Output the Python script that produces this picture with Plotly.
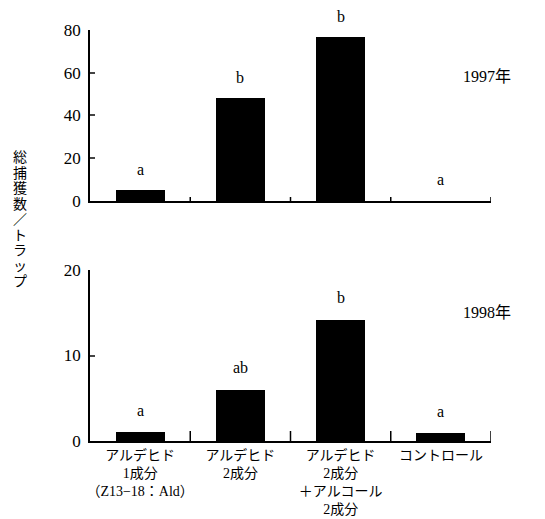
import plotly.graph_objects as go
from plotly.subplots import make_subplots

categories = ["アルデヒド<br>1成分<br>（Z13−18：Ald）", "アルデヒド<br>2成分",
              "アルデヒド<br>2成分<br>＋アルコール<br>2成分", "コントロール"]
vals_1997 = [5, 48, 76.5, 0]
vals_1998 = [1, 6, 14.2, 0.9]
letters_1997 = ["a", "b", "b", "a"]
letters_1998 = ["a", "ab", "b", "a"]
yticks_1997 = [0, 20, 40, 60, 80]
yticks_1998 = [0, 10, 20]
years = ["1997年", "1998年"]
ytitle = "総捕獲数／トラップ"

FONT = "Liberation Serif, Noto Sans CJK JP, serif"
pos = [i + 0.5 for i in range(len(categories))]

fig = make_subplots(rows=2, cols=1, vertical_spacing=0.0)
fig.add_trace(go.Bar(x=pos, y=vals_1997, width=0.49, marker=dict(color="black", line=dict(width=0)),
                     showlegend=False), row=1, col=1)
fig.add_trace(go.Bar(x=pos, y=vals_1998, width=0.49, marker=dict(color="black", line=dict(width=0)),
                     showlegend=False), row=2, col=1)

fig.update_layout(
    width=537, height=511,
    margin=dict(l=82, r=54, t=22, b=78),
    plot_bgcolor="white", paper_bgcolor="white",
    font=dict(family=FONT, size=15, color="black"),
    bargap=0,
)
common_y = dict(ticks="inside", ticklen=5, tickwidth=1.5, showline=True, linewidth=1.5,
                linecolor="black", showgrid=False, zeroline=False, tickfont=dict(size=17),
                automargin=False, ticklabelstandoff=4)
fig.update_layout(
    yaxis=dict(domain=[0.584, 1.0], range=[0, 80], tickvals=yticks_1997, **common_y),
    yaxis2=dict(domain=[0.0, 0.416], range=[0, 20], tickvals=yticks_1998, **common_y),
    xaxis=dict(range=[0, 4], showline=True, linewidth=1.5, linecolor="black", showgrid=False,
               zeroline=False, showticklabels=False, ticks="", automargin=False),
    xaxis2=dict(range=[0, 4], showline=True, linewidth=1.5, linecolor="black", showgrid=False,
                zeroline=False, tickvals=pos, ticktext=categories, ticks="",
                tickfont=dict(size=14), automargin=False),
)

shapes = []
for b in range(1, 5):
    shapes.append(dict(type="line", xref="x", yref="y", x0=b, x1=b, ysizemode="pixel", yanchor=0,
                       y0=-4, y1=4, line=dict(color="black", width=1.5)))
for b in range(0, 5):
    shapes.append(dict(type="line", xref="x2", yref="y2", x0=b, x1=b, ysizemode="pixel", yanchor=0,
                       y0=-11, y1=0 if b == 0 else 10, line=dict(color="black", width=1.5)))
fig.update_layout(shapes=shapes)

ann = []
for x, v, t in zip(pos, vals_1997, letters_1997):
    ann.append(dict(x=x, y=v, xref="x", yref="y", text=t, showarrow=False, yshift=21,
                    font=dict(size=16)))
for x, v, t in zip(pos, vals_1998, letters_1998):
    ann.append(dict(x=x, y=v, xref="x2", yref="y2", text=t, showarrow=False, yshift=22,
                    font=dict(size=16)))
ann.append(dict(x=3.96, y=58.4, xref="x", yref="y", text=years[0], showarrow=False, font=dict(size=16)))
ann.append(dict(x=3.96, y=15.0, xref="x2", yref="y2", text=years[1], showarrow=False, font=dict(size=16)))
n = len(ytitle)
for i, ch in enumerate(ytitle):
    ann.append(dict(x=0, y=0.538, xref="paper", yref="paper", xshift=-70,
                    yshift=((n - 1) / 2 - i) * 15.5, text=ch,
                    showarrow=False, font=dict(size=14), xanchor="center", yanchor="middle"))
fig.update_layout(annotations=ann)

fig.write_html("out.html")
